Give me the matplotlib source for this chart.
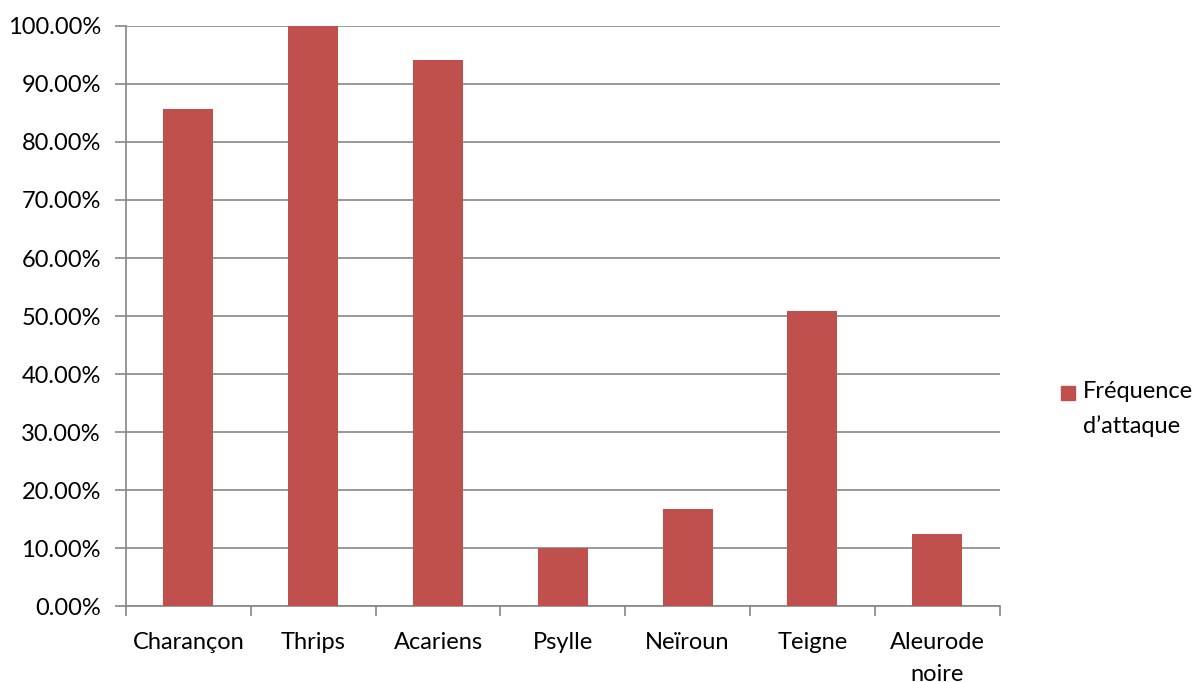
import matplotlib.pyplot as plt
import matplotlib.ticker as mticker
from matplotlib.patches import Rectangle
import numpy as np

plt.rcParams['font.family'] = ['Lato', 'DejaVu Sans']

# fréquence d'attaque par ravageur (%)
ravageurs = ["Charançon", "Thrips", "Acariens", "Psylle", "Neïroun", "Teigne", "Aleurode\nnoire"]
frequence = [85.71, 100.0, 94.12, 10.0, 16.67, 50.79, 12.5]
serie = "Fréquence\nd\u2019attaque"

rouge = "#C0504D"
gris = "#868686"
taille = 17

fig = plt.figure(figsize=(12, 6.82), dpi=100)
ax = fig.add_axes([0.105, 0.1114, 0.728, 0.8505])

x = np.arange(len(ravageurs))
ax.bar(x, frequence, width=0.4, color=rouge, zorder=3)

ax.set_xlim(-0.5, len(ravageurs) - 0.5)
ax.set_ylim(0, 100)
ax.yaxis.set_major_locator(mticker.MultipleLocator(10))
ax.yaxis.set_major_formatter(mticker.FuncFormatter(lambda v, p: f"{v:.2f}%"))
ax.grid(axis='y', color=gris, linewidth=1.2, zorder=0)

ax.set_xticks(x)
ax.set_xticklabels(ravageurs, linespacing=1.65)
ax.set_xticks(np.arange(-0.5, len(ravageurs)), minor=True)
ax.tick_params(axis='x', which='major', length=0, pad=19, labelsize=taille)
ax.tick_params(axis='x', which='minor', length=7, width=1.2, color=gris)
ax.tick_params(axis='y', length=8, width=1.2, color=gris, labelsize=taille, pad=10)

for s in ['top', 'right']:
    ax.spines[s].set_visible(False)
for s in ['left', 'bottom']:
    ax.spines[s].set_color(gris)
    ax.spines[s].set_linewidth(1.2)

# légende à droite : carré aligné sur la première ligne
fig.add_artist(Rectangle((1061 / 1200, 1 - 400 / 682), 14 / 1200, 14 / 682,
                         transform=fig.transFigure, color=rouge))
fig.text(1083 / 1200, 1 - 381 / 682, serie, fontsize=taille, va='top', ha='left',
         linespacing=1.75)

plt.savefig("out.png", dpi=100)
